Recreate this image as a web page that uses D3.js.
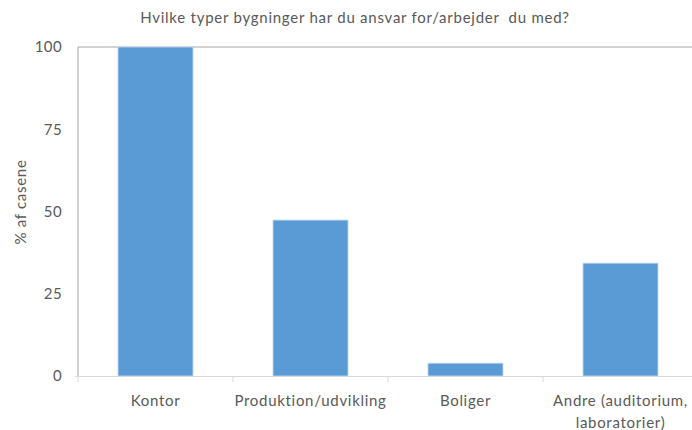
<!DOCTYPE html>
<html>
<head>
<meta charset="utf-8">
<script src="https://cdn.jsdelivr.net/npm/d3@7"></script>
<style>
  body { margin: 0; background: #fff; }
  svg text { font-family: Lato, "Open Sans", sans-serif; fill: #595959; }
</style>
</head>
<body>
<svg width="692" height="430"></svg>
<script>
var categories = [["Kontor"], ["Produktion/udvikling"], ["Boliger"], ["Andre (auditorium,", "laboratorier)"]];
var values = [100, 47.4, 3.9, 34.3];
var yTicks = [0, 25, 50, 75, 100];
var title = "Hvilke typer bygninger har du ansvar for/arbejder  du med?";
var yLabel = "% af casene";

var svg = d3.select("svg");
var margin = {left: 78, top: 47, right: -6, bottom: 54};
var width = 692 - margin.left - margin.right,
    height = 430 - margin.top - margin.bottom;

var x = d3.scaleBand()
    .domain(d3.range(categories.length))
    .range([margin.left, margin.left + width])
    .paddingInner(0.516)
    .paddingOuter(0.258);

var y = d3.scaleLinear().domain([0, 100]).range([margin.top + height, margin.top]);

// title
svg.append("text")
    .attr("x", 355).attr("y", 23)
    .attr("text-anchor", "middle")
    .style("font-size", "15px")
    .style("letter-spacing", "0.75px")
    .style("white-space", "pre")
    .text(title);

// frame lines: left and top
svg.append("line")
    .attr("x1", margin.left).attr("x2", margin.left)
    .attr("y1", y(100)).attr("y2", y(0))
    .attr("stroke", "#a6a6a6").attr("stroke-width", 1);
svg.append("line")
    .attr("x1", margin.left).attr("x2", 692)
    .attr("y1", y(100)).attr("y2", y(100))
    .attr("stroke", "#a6a6a6").attr("stroke-width", 1);

// y tick labels
svg.append("g").selectAll("text")
    .data(yTicks)
    .enter().append("text")
    .attr("x", 62)
    .attr("y", function(d) { return y(d); })
    .attr("dy", "0.35em")
    .attr("text-anchor", "end")
    .style("font-size", "15px")
    .style("letter-spacing", "0.4px")
    .text(function(d) { return d; });

svg.append("text")
    .attr("transform", "translate(26,202) rotate(-90)")
    .attr("text-anchor", "middle")
    .style("font-size", "15px")
    .style("letter-spacing", "0.7px")
    .text(yLabel);

// bars
svg.append("g").selectAll("rect")
    .data(values)
    .enter().append("rect")
    .attr("x", function(d, i) { return x(i); })
    .attr("width", x.bandwidth())
    .attr("y", function(d) { return y(d); })
    .attr("height", function(d) { return y(0) - y(d); })
    .attr("fill", "#5b9bd5")
    .attr("stroke", "#c5dcf0")
    .attr("stroke-width", 0.8);

// x axis line + ticks at band boundaries
svg.append("line")
    .attr("x1", margin.left - 3).attr("x2", 692)
    .attr("y1", y(0) + 0.5).attr("y2", y(0) + 0.5)
    .attr("stroke", "#d9d9d9").attr("stroke-width", 1.2);

var step = x.step();
var bounds = d3.range(categories.length).map(function(i) { return x(i) - x.paddingOuter() * step; });
svg.append("g").selectAll("line")
    .data(bounds)
    .enter().append("line")
    .attr("x1", function(d) { return d; }).attr("x2", function(d) { return d; })
    .attr("y1", y(0) + 0.5).attr("y2", y(0) + 6)
    .attr("stroke", "#d9d9d9").attr("stroke-width", 1);

// x labels
var xl = svg.append("g").selectAll("text")
    .data(categories)
    .enter().append("text")
    .attr("text-anchor", "middle")
    .attr("x", function(d, i) { return x(i) + x.bandwidth() / 2; })
    .attr("y", 406)
    .style("font-size", "15px")
    .style("letter-spacing", "0.7px");
xl.selectAll("tspan")
    .data(function(d) { return d; })
    .enter().append("tspan")
    .attr("x", function() { return d3.select(this.parentNode).attr("x"); })
    .attr("dy", function(d, i) { return i ? 22 : 0; })
    .text(function(d) { return d; });
</script>
</body>
</html>
